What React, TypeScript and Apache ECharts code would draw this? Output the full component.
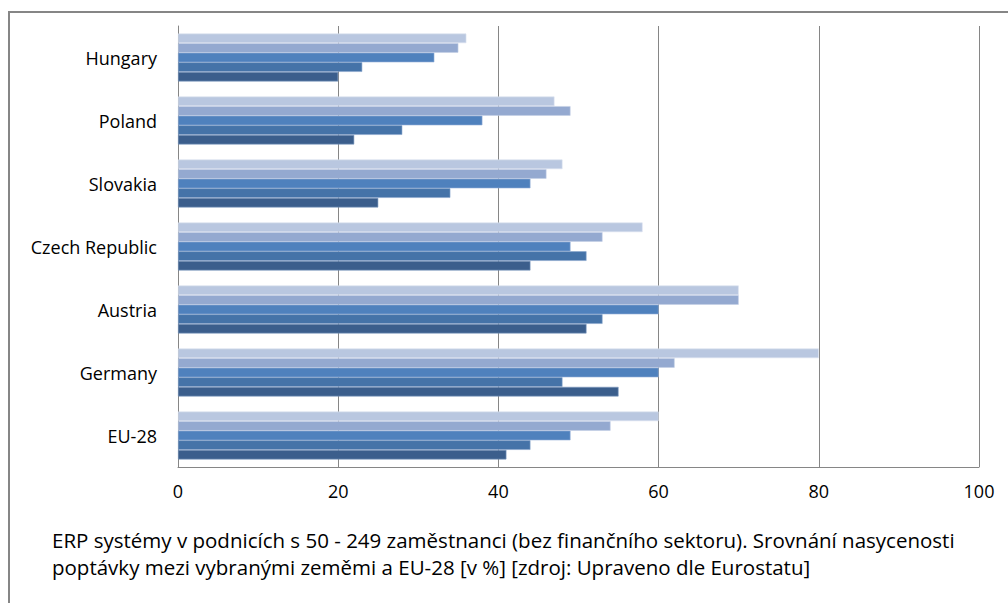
import React, { useEffect, useRef } from "react";
import * as echarts from "echarts";

const categories = ["EU-28", "Germany", "Austria", "Czech Republic", "Slovakia", "Poland", "Hungary"];
const seriesNames = ["Řada 1", "Řada 2", "Řada 3", "Řada 4", "Řada 5"];
const series1 = [41, 55, 51, 44, 25, 22, 20];
const series2 = [44, 48, 53, 51, 34, 28, 23];
const series3 = [49, 60, 60, 49, 44, 38, 32];
const series4 = [54, 62, 70, 53, 46, 49, 35];
const series5 = [60, 80, 70, 58, 48, 47, 36];
const xTicks = { min: 0, max: 100, interval: 20 };
const captionLines = [
  "ERP systémy v podnicích s 50 - 249 zaměstnanci (bez finančního sektoru). Srovnání nasycenosti",
  "poptávky mezi vybranými zeměmi a EU-28 [v %] [zdroj: Upraveno dle Eurostatu]",
];

const colors = ["#3B5E8C", "#4573A8", "#4F81BD", "#94A9D0", "#B9C7E0"];
const borders = ["#7F9CC2", "#8AA6CC", "#93AFD6", "#C4D0E6", "#DCE3F0"];
const FONT = "'Open Sans', 'Noto Sans', sans-serif";

export default function App() {
  const ref = useRef<HTMLDivElement>(null);
  useEffect(() => {
    if (!ref.current) return;
    const chart = echarts.init(ref.current, undefined, { renderer: "svg" });
    const allData = [series1, series2, series3, series4, series5];
    // lightest series first so that it is drawn at the top of each group
    const order = [4, 3, 2, 1, 0];
    chart.setOption({
      animation: false,
      backgroundColor: "#ffffff",
      textStyle: { fontFamily: FONT },
      grid: { left: 178, right: 29, top: 26, bottom: 136, containLabel: false },
      xAxis: {
        type: "value",
        min: xTicks.min,
        max: xTicks.max,
        interval: xTicks.interval,
        axisLine: { show: true, lineStyle: { color: "#868686", width: 1 } },
        axisTick: { show: false },
        splitLine: { show: true, lineStyle: { color: "#868686", width: 1 } },
        axisLabel: { color: "#000", fontSize: 18, fontFamily: FONT, margin: 15 },
      },
      yAxis: {
        type: "category",
        data: categories,
        axisLine: { show: true, lineStyle: { color: "#868686", width: 1 } },
        axisTick: { show: false },
        axisLabel: { color: "#000", fontSize: 18, fontFamily: FONT, margin: 21 },
      },
      series: order.map((i) => ({
        name: seriesNames[i],
        type: "bar",
        data: allData[i],
        barGap: "0%",
        barCategoryGap: "24%",
        itemStyle: { color: colors[i], borderColor: borders[i], borderWidth: 0.6 },
      })),
      graphic: [
        {
          type: "rect",
          shape: { x: 9, y: 12, width: 1100, height: 700 },
          style: { fill: "none", stroke: "#868686", lineWidth: 2 },
          silent: true,
        },
        {
          type: "text",
          left: 52,
          top: 526,
          style: {
            text: captionLines.join("\n"),
            fontSize: 20.5,
            lineHeight: 27,
            fill: "#000",
            fontFamily: FONT,
          },
        },
      ],
    });
    return () => chart.dispose();
  }, []);
  return (
    <div
      ref={ref}
      style={{ position: "absolute", left: 0, top: 0, width: 1008, height: 603 }}
    />
  );
}
